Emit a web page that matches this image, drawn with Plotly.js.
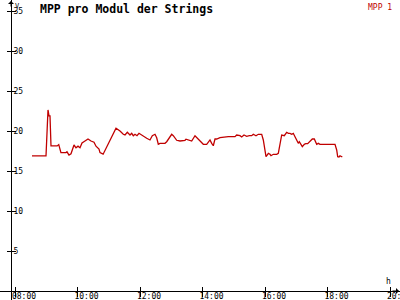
<!DOCTYPE html>
<html>
<head>
<meta charset="utf-8">
<script src="https://cdn.plot.ly/plotly-3.0.1.min.js"></script>
<style>html,body{margin:0;padding:0;background:#fff;}#chart{width:400px;height:300px;}</style>
</head>
<body>
<div id="chart"></div>
<script>
const seriesName = 'MPP 1';
const chartTitle = 'MPP pro Modul der Strings';
const yUnit = 'V';
const xUnit = 'h';
const xTickVals = [8, 10, 12, 14, 16, 18, 20];
const xTickText = ['08:00', '10:00', '12:00', '14:00', '16:00', '18:00', '20:00'];
const yTickVals = [5, 10, 15, 20, 25, 30, 35];

const hours = [
  8.544, 8.992, 9.056, 9.088, 9.12, 9.152, 9.35, 9.40, 9.47, 9.632, 9.664, 9.728, 9.792, 9.824,
  9.888, 9.952, 10.016, 10.08, 10.144, 10.24, 10.336, 10.432, 10.528, 10.592, 10.688, 10.72, 10.82,
  11.232, 11.36, 11.466, 11.52, 11.594, 11.68, 11.734, 11.786, 11.84, 11.904, 11.968, 12.054, 12.106,
  12.214, 12.32, 12.394, 12.48, 12.534, 12.586, 12.64, 12.694, 12.8, 12.854, 12.96, 13.014, 13.066,
  13.12, 13.174, 13.28, 13.386, 13.44, 13.472, 13.546, 13.654, 13.76, 13.834, 13.92, 13.974, 14.026,
  14.134, 14.24, 14.294, 14.346, 14.4, 14.454, 14.56, 14.826, 15.04, 15.094, 15.2, 15.254, 15.328,
  15.414, 15.498, 15.574, 15.626, 15.712, 15.786, 15.894, 15.946, 16.0, 16.032, 16.074, 16.106, 16.16,
  16.192, 16.266, 16.374, 16.426, 16.458, 16.512, 16.534, 16.618, 16.662, 16.694, 16.746, 16.8, 16.854,
  16.906, 16.96, 17.014, 17.066, 17.098, 17.152, 17.194, 17.258, 17.302, 17.366, 17.44, 17.514, 17.578,
  17.622, 17.654, 17.706, 17.76, 18.24, 18.294, 18.326, 18.368, 18.4, 18.474
];
const mppValues = [
  16.88, 16.88, 22.63, 21.88, 21.88, 18.13, 18.13, 18.3, 17.3, 17.3, 17.4, 17.0, 17.15, 17.6,
  18.25, 17.9, 18.1, 17.9, 18.5, 18.75, 19.0, 18.75, 18.6, 18.1, 17.75, 17.3, 17.1,
  20.34, 20.0, 19.59, 19.5, 19.84, 19.5, 19.71, 19.41, 19.59, 19.41, 19.71, 19.5, 19.29,
  19.09, 18.88, 19.41, 19.59, 19.16, 18.34, 18.46, 18.46, 18.46, 18.66, 19.29, 19.59, 19.41,
  19.16, 18.84, 18.75, 18.75, 18.84, 18.98, 18.88, 18.75, 19.41, 19.09, 18.75, 18.46, 18.34,
  18.34, 18.88, 18.46, 18.16, 19.0, 19.0, 19.16, 19.29, 19.29, 19.5, 19.41, 19.25, 19.5,
  19.34, 19.41, 19.41, 19.59, 19.41, 19.59, 19.59, 18.88, 17.63, 16.79, 17.0, 17.21, 17.09,
  16.91, 17.09, 17.09, 17.21, 17.84, 18.88, 19.5, 19.41, 19.59, 19.84, 19.71, 19.71, 19.59,
  19.71, 19.29, 18.75, 18.46, 18.66, 18.34, 18.04, 18.34, 18.41, 18.41, 18.75, 19.0, 19.0,
  18.66, 18.34, 18.46, 18.34, 18.34, 17.63, 16.79, 16.75, 16.91, 16.75
];

const mono = 'DejaVu Sans Mono, monospace';
const lineColor = '#c00000';
const xRange = [7.52, 20.32];
const yRange = [-1.125, 36.375];
const xPos = 9 / 300;
const yPos = 11 / 400;

const traces = [
  {x: hours, y: mppValues, type: 'scatter', mode: 'lines', name: seriesName,
    line: {color: lineColor, width: 1.3, shape: 'linear'}, hoverinfo: 'skip', showlegend: false},
  // empty helper traces so the tick-only overlay axes get drawn
  {x: [], y: [], type: 'scatter', mode: 'lines', xaxis: 'x2', yaxis: 'y', showlegend: false, hoverinfo: 'skip'},
  {x: [], y: [], type: 'scatter', mode: 'lines', xaxis: 'x3', yaxis: 'y', showlegend: false, hoverinfo: 'skip'},
  {x: [], y: [], type: 'scatter', mode: 'lines', xaxis: 'x', yaxis: 'y2', showlegend: false, hoverinfo: 'skip'}
];

const baseX = {range: xRange, anchor: 'free', position: xPos, showgrid: false, zeroline: false,
  tickmode: 'array', tickvals: xTickVals, fixedrange: true};
const baseY = {range: yRange, anchor: 'free', position: yPos, showgrid: false, zeroline: false,
  tickmode: 'array', tickvals: yTickVals, fixedrange: true};

const layout = {
  width: 400, height: 300,
  margin: {l: 0, r: 0, t: 0, b: 0, pad: 0},
  paper_bgcolor: '#ffffff', plot_bgcolor: '#ffffff',
  showlegend: false,
  title: {text: '<b>' + chartTitle + '</b>', font: {family: mono, size: 11.5, color: '#000'},
    x: 40 / 400, xanchor: 'left', xref: 'paper', y: 1 - 9 / 300, yanchor: 'middle', yref: 'paper'},
  xaxis: Object.assign({}, baseX, {showline: true, linecolor: '#000', linewidth: 1,
    ticktext: xTickText, ticks: '', tickfont: {family: mono, size: 8, color: '#000'},
    ticklabelshift: 9, ticklabelstandoff: -3, ticklabeloverflow: 'allow'}),
  xaxis2: Object.assign({}, baseX, {overlaying: 'x', showline: false, showticklabels: false,
    ticks: 'outside', ticklen: 5, tickcolor: '#000', tickwidth: 1}),
  xaxis3: Object.assign({}, baseX, {overlaying: 'x', showline: false, showticklabels: false,
    ticks: 'inside', ticklen: 4, tickcolor: '#000', tickwidth: 1}),
  yaxis: Object.assign({}, baseY, {showline: true, linecolor: '#000', linewidth: 1,
    ticks: 'outside', ticklen: 4, tickcolor: '#000', tickwidth: 1,
    ticklabelposition: 'inside', ticklabeloverflow: 'allow', tickfont: {family: mono, size: 8, color: '#000'}}),
  yaxis2: Object.assign({}, baseY, {overlaying: 'y', showline: false, showticklabels: false,
    ticks: 'inside', ticklen: 4, tickcolor: '#000', tickwidth: 1}),
  annotations: [
    {text: seriesName, xref: 'paper', yref: 'paper', x: 394 / 400, y: 1 - 1 / 300, xanchor: 'right', yanchor: 'top',
      showarrow: false, font: {family: mono, size: 8, color: lineColor}},
    {text: yUnit, xref: 'paper', yref: 'paper', x: 13 / 400, y: 1, xanchor: 'left', yanchor: 'top',
      showarrow: false, font: {family: mono, size: 7, color: '#000'}},
    {text: xUnit, xref: 'paper', yref: 'paper', x: 384 / 400, y: 1 - 275 / 300, xanchor: 'left', yanchor: 'top',
      showarrow: false, font: {family: mono, size: 8, color: '#000'}},
    {text: '', xref: 'paper', yref: 'paper', x: yPos, y: 1, showarrow: true, ax: 0, ay: 8,
      arrowhead: 1, arrowsize: 1, arrowwidth: 1, arrowcolor: '#000'},
    {text: '', xref: 'paper', yref: 'paper', x: 399 / 400, y: xPos, showarrow: true, ax: -8, ay: 0,
      arrowhead: 1, arrowsize: 1, arrowwidth: 1, arrowcolor: '#000'}
  ]
};

Plotly.newPlot('chart', traces, layout, {staticPlot: true, displayModeBar: false});
</script>
</body>
</html>
